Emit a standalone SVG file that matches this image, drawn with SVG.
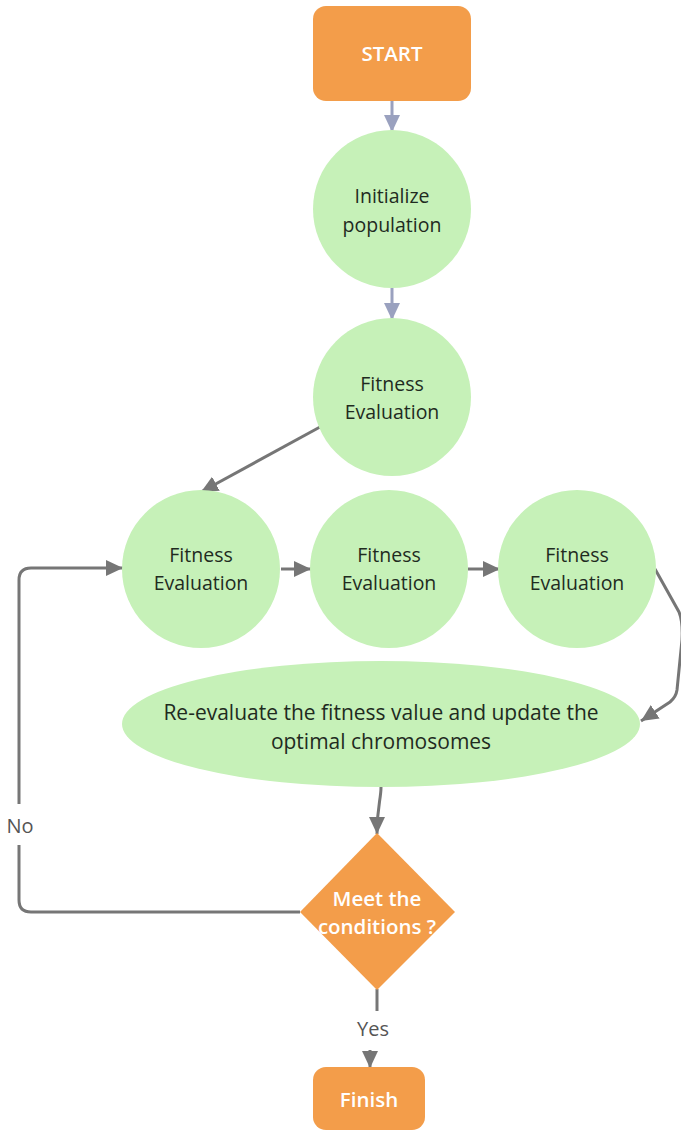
<svg xmlns="http://www.w3.org/2000/svg" width="681" height="1132" viewBox="0 0 681 1132">
  <defs>
    <marker id="arrowGray" markerUnits="userSpaceOnUse" markerWidth="18" markerHeight="18" refX="17" refY="9" orient="auto">
      <path d="M0,1 L17,9 L0,17 z" fill="#767676"/>
    </marker>
    <marker id="arrowBlue" markerUnits="userSpaceOnUse" markerWidth="18" markerHeight="18" refX="17" refY="9" orient="auto">
      <path d="M0,1 L17,9 L0,17 z" fill="#9aa1bf"/>
    </marker>
    <style>
      .term { fill: #f39d4a; }
      .proc { fill: #c6f1b8; }
      .lbl { font-family: "Open Sans", "Liberation Sans", sans-serif; font-size: 19.5px; fill: #1f2b1f; text-anchor: middle; }
      .lbl-wide { font-size: 21px; }
      .lblw { font-family: "Open Sans", "Liberation Sans", sans-serif; font-size: 20.5px; fill: #ffffff; text-anchor: middle; font-weight: 600; }
      .edge { fill: none; stroke: #767676; stroke-width: 3; }
      .edgeb { fill: none; stroke: #9aa1bf; stroke-width: 3; }
      .elbl { font-family: "Open Sans", "Liberation Sans", sans-serif; font-size: 20px; fill: #555555; text-anchor: middle; }
    </style>
  </defs>

  <rect width="681" height="1132" fill="#ffffff"/>

  <!-- connectors -->
  <g id="connectors">
    <line class="edgeb" x1="392" y1="101" x2="392" y2="132" marker-end="url(#arrowBlue)"/>
    <line class="edgeb" x1="392" y1="288" x2="392" y2="320" marker-end="url(#arrowBlue)"/>
    <line class="edge" x1="320" y1="427" x2="201" y2="492" marker-end="url(#arrowGray)"/>
    <line class="edge" x1="281" y1="569" x2="311" y2="569" marker-end="url(#arrowGray)"/>
    <line class="edge" x1="468" y1="569" x2="500" y2="569" marker-end="url(#arrowGray)"/>
    <path class="edge" d="M655,569 L679,612 Q683,622 682,640 L677,690 Q676,697 670,702 L641,721" marker-end="url(#arrowGray)"/>
    <path class="edge" d="M381,787 C381,800 377,806 377,834" marker-end="url(#arrowGray)"/>
    <path class="edge" d="M300,912 L31,912 Q19,912 19,900 L19,845"/>
    <path class="edge" d="M19,804 L19,580 Q19,568 31,568 L123,568" marker-end="url(#arrowGray)"/>
    <line class="edge" x1="377" y1="989" x2="377" y2="1011"/>
    <line class="edge" x1="370" y1="1050" x2="370" y2="1068" marker-end="url(#arrowGray)"/>
    <text class="elbl" x="20" y="833">No</text>
    <text class="elbl" x="373" y="1036">Yes</text>
  </g>

  <g id="start">
    <rect class="term" x="313" y="6" width="158" height="95" rx="13"/>
    <text class="lblw" x="392" y="61">START</text>
  </g>

  <g id="init">
    <circle class="proc" cx="392" cy="209" r="79"/>
    <text class="lbl" x="392" y="203">Initialize</text>
    <text class="lbl" x="392" y="232">population</text>
  </g>

  <g id="fitness0">
    <circle class="proc" cx="392" cy="397" r="79"/>
    <text class="lbl" x="392" y="391">Fitness</text>
    <text class="lbl" x="392" y="419">Evaluation</text>
  </g>

  <g id="fitness1">
    <circle class="proc" cx="201" cy="569" r="79"/>
    <text class="lbl" x="201" y="562">Fitness</text>
    <text class="lbl" x="201" y="590">Evaluation</text>
  </g>

  <g id="fitness2">
    <circle class="proc" cx="389" cy="569" r="79"/>
    <text class="lbl" x="389" y="562">Fitness</text>
    <text class="lbl" x="389" y="590">Evaluation</text>
  </g>

  <g id="fitness3">
    <circle class="proc" cx="577" cy="569" r="79"/>
    <text class="lbl" x="577" y="562">Fitness</text>
    <text class="lbl" x="577" y="590">Evaluation</text>
  </g>

  <g id="reevaluate">
    <ellipse class="proc" cx="381" cy="724" rx="259" ry="63"/>
    <text class="lbl lbl-wide" x="381" y="720">Re-evaluate the fitness value and update the</text>
    <text class="lbl lbl-wide" x="381" y="749">optimal chromosomes</text>
  </g>

  <g id="decision">
    <polygon class="term" points="377,833 455,912 377,990 300,912"/>
    <text class="lblw" x="377" y="906">Meet the</text>
    <text class="lblw" x="377" y="934">conditions ?</text>
  </g>

  <g id="finish">
    <rect class="term" x="313" y="1067" width="112" height="63" rx="13"/>
    <text class="lblw" x="369" y="1107">Finish</text>
  </g>
</svg>
